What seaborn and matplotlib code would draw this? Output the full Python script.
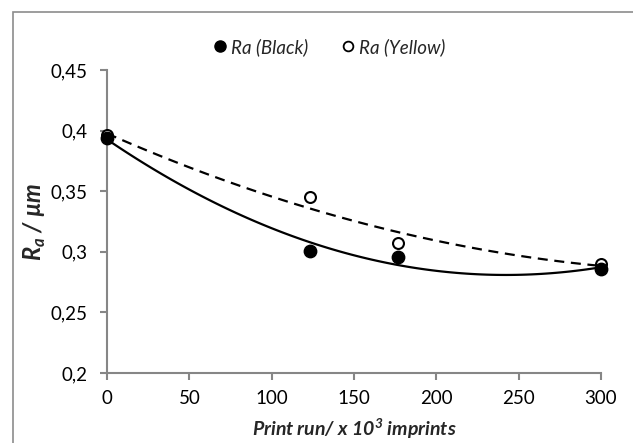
import matplotlib
matplotlib.use("Agg")
import matplotlib.pyplot as plt
import seaborn as sns
import numpy as np
import pandas as pd
from matplotlib.lines import Line2D
from matplotlib.patches import Rectangle

print_run = [0, 123, 177, 300]
ra_black = [0.394, 0.301, 0.296, 0.286]
ra_yellow = [0.396, 0.345, 0.307, 0.290]
x_ticks = [0, 50, 100, 150, 200, 250, 300]
y_ticks = [0.2, 0.25, 0.3, 0.35, 0.4, 0.45]
y_tick_labels = ["0,2", "0,25", "0,3", "0,35", "0,4", "0,45"]

sns.set_theme(style="white")
plt.rcParams['font.family'] = ['Lato', 'DejaVu Sans']

df_b = pd.DataFrame({"x": print_run, "y": ra_black})
df_y = pd.DataFrame({"x": print_run, "y": ra_yellow})

W, H = 633, 443
fig = plt.figure(figsize=(6.33, 4.43), dpi=100)
L, R, T, B = 107, 601, 70, 373
ax = fig.add_axes([L/W, (H-B)/H, (R-L)/W, (B-T)/H])

# outer chart border
fig.patches.append(Rectangle((13/W, -0.1), 1.2, (H-12)/H + 0.1, transform=fig.transFigure,
                             fill=False, edgecolor="#8c8c8c", linewidth=1.2))

GREY = "#868686"

sns.regplot(data=df_b, x="x", y="y", order=2, ci=None, scatter=False, ax=ax,
            line_kws=dict(color="black", linewidth=1.6, linestyle="-"))
sns.regplot(data=df_y, x="x", y="y", order=2, ci=None, scatter=False, ax=ax,
            line_kws=dict(color="black", linewidth=1.6, linestyle=(0, (4.5, 3))))

sns.scatterplot(data=df_y, x="x", y="y", ax=ax, s=62, facecolor="white", edgecolor="black",
                linewidth=1.5, zorder=5, clip_on=False)
sns.scatterplot(data=df_b, x="x", y="y", ax=ax, s=80, color="black", edgecolor="black",
                linewidth=1, zorder=6, clip_on=False)

ax.set_xlim(0, 300)
ax.set_ylim(0.2, 0.45)
ax.set_xticks(x_ticks)
ax.set_xticklabels([str(v) for v in x_ticks])
ax.set_yticks(y_ticks)
ax.set_yticklabels(y_tick_labels)

for s in ["top", "right"]:
    ax.spines[s].set_visible(False)
for s in ["left", "bottom"]:
    ax.spines[s].set_color(GREY)
    ax.spines[s].set_linewidth(1.5)
    ax.spines[s].set_zorder(1)
ax.tick_params(axis="both", which="major", direction="out", length=5, width=1.5,
               color=GREY, labelsize=13.5, labelcolor="black",
               bottom=True, left=True)
ax.tick_params(axis="y", pad=9)
ax.tick_params(axis="x", pad=7)

ax.set_xlabel("Print run/ x 10$^{\\mathregular{3}}$ imprints", fontsize=14, fontweight="bold",
              fontstyle="italic")
ax.set_ylabel("$\\mathregular{R}_{\\mathregular{a}}$ / \u00b5m", fontsize=17, fontweight="bold",
              fontstyle="italic")
ax.xaxis.label.set_va("center")
ax.yaxis.label.set_va("center")
ax.xaxis.set_label_coords(0.5, (B-429)/(B-T))
ax.yaxis.set_label_coords((35-L)/(R-L), 0.5)

handles = [Line2D([], [], marker="o", linestyle="none", markerfacecolor="black",
                  markeredgecolor="black", markersize=8),
           Line2D([], [], marker="o", linestyle="none", markerfacecolor="white",
                  markeredgecolor="black", markeredgewidth=1.3, markersize=7)]
fig.legend(handles, ["Ra (Black)", "Ra (Yellow)"], loc="center",
           bbox_to_anchor=(328/W, 1 - 47/H), ncol=2, frameon=False,
           prop=dict(style="italic", size=13.5), handletextpad=0.1, columnspacing=1.6,
           handlelength=1.0)

fig.savefig("out.png", dpi=100)
